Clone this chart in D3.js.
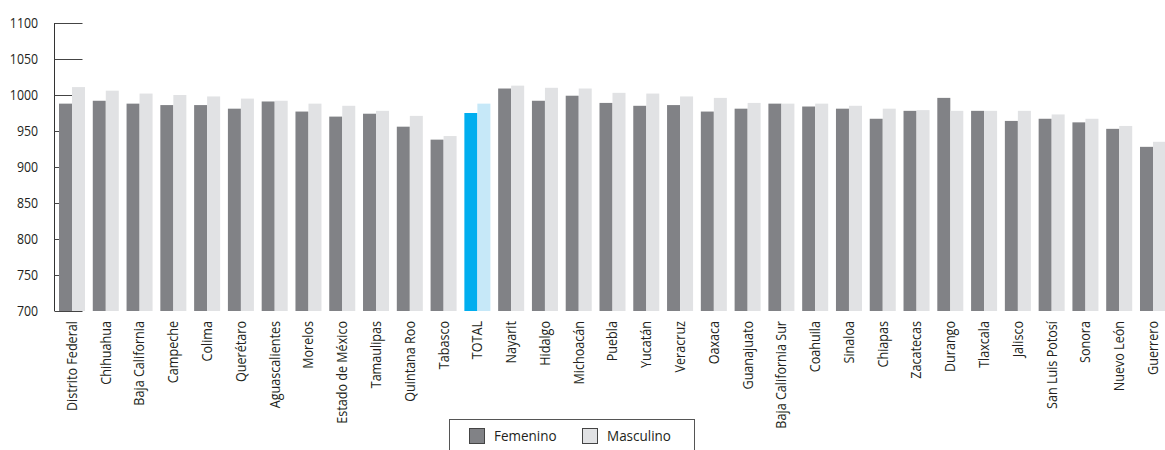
<!DOCTYPE html>
<html>
<head>
<meta charset="utf-8">
<script src="https://cdn.jsdelivr.net/npm/d3@7"></script>
<style>
  body { margin: 0; background: #fff; }
  text { font-family: "Open Sans", sans-serif; fill: #231f20; }
</style>
</head>
<body>
<div id="chart"></div>
<script>
const estados = ["Distrito Federal", "Chihuahua", "Baja California", "Campeche", "Colima", "Querétaro",
    "Aguascalientes", "Morelos", "Estado de México", "Tamaulipas", "Quintana Roo", "Tabasco", "TOTAL",
    "Nayarit", "Hidalgo", "Michoacán", "Puebla", "Yucatán", "Veracruz", "Oaxaca", "Guanajuato",
    "Baja California Sur", "Coahuila", "Sinaloa", "Chiapas", "Zacatecas", "Durango", "Tlaxcala",
    "Jalisco", "San Luis Potosí", "Sonora", "Nuevo León", "Guerrero"];

const femenino = [988, 992, 988, 986, 986, 981, 991, 977, 970, 974, 956, 938, 975,
    1009, 992, 999, 989, 985, 986, 977, 981, 988, 984, 981, 967, 978, 996, 978,
    964, 967, 962, 953, 928];

const masculino = [1011, 1006, 1002, 1000, 998, 995, 992, 988, 985, 978, 971, 943, 988,
    1013, 1010, 1009, 1003, 1002, 998, 996, 989, 988, 988, 985, 981, 979, 978, 978,
    978, 973, 967, 957, 935];

const yTicks = [700, 750, 800, 850, 900, 950, 1000, 1050, 1100];
const series = ["Femenino", "Masculino"];

const width = 1165, height = 450;
const svg = d3.select("#chart").append("svg")
    .attr("width", width)
    .attr("height", height);

const x = d3.scaleBand()
    .domain(estados)
    .range([59, 1166])
    .paddingInner(0.23)
    .paddingOuter(0);

const xs = d3.scaleBand()
    .domain(series)
    .range([0, x.bandwidth()]);

const y = d3.scaleLinear()
    .domain([700, 1100])
    .range([311, 23]);

// eje y, ticks hacia adentro
const yAxis = svg.append("g")
    .attr("transform", "translate(54.5,0)")
    .call(d3.axisRight(y).tickValues(yTicks).tickSize(28).tickFormat(""));
yAxis.select(".domain").attr("stroke", "#333").attr("d", `M0,${y(1100)}V${y(700)}`);
yAxis.selectAll(".tick line").attr("stroke", "#444");

// fuente condensada: se comprime el texto en su eje
svg.append("g")
    .selectAll("text")
    .data(yTicks)
    .enter()
    .append("text")
    .attr("transform", d => `translate(38,${y(d)}) scale(0.88,1)`)
    .attr("dy", "0.35em")
    .attr("text-anchor", "end")
    .style("font-size", "14px")
    .text(d => d);

const colores = {
    Femenino: "#818286", Masculino: "#e1e2e4",
    totalF: "#00aeef", totalM: "#c6e8f8"
};

const grupos = svg.append("g")
    .selectAll("g")
    .data(estados)
    .enter()
    .append("g")
    .attr("transform", d => `translate(${x(d)},0)`);

grupos.selectAll("rect")
    .data((d, i) => [
        { estado: d, serie: "Femenino", value: femenino[i] },
        { estado: d, serie: "Masculino", value: masculino[i] }
    ])
    .enter()
    .append("rect")
    .attr("x", d => xs(d.serie))
    .attr("y", d => y(d.value))
    .attr("width", xs.bandwidth())
    .attr("height", d => y(700) - y(d.value))
    .attr("fill", d => {
        if (d.estado === "TOTAL") return d.serie === "Femenino" ? colores.totalF : colores.totalM;
        return colores[d.serie];
    });

// etiquetas rotadas
svg.append("g")
    .selectAll("text")
    .data(estados)
    .enter()
    .append("text")
    .attr("transform", d => `translate(${x(d) + x.bandwidth() / 2},321) rotate(-90) scale(0.9,1)`)
    .attr("dy", "0.35em")
    .attr("text-anchor", "end")
    .style("font-size", "14px")
    .text(d => d);

// leyenda
const leyenda = svg.append("g");
leyenda.append("rect")
    .attr("x", 449.5).attr("y", 419.5)
    .attr("width", 245).attr("height", 40)
    .attr("fill", "none").attr("stroke", "#555");

const itemX = d3.scalePoint().domain(series).range([469, 582]);
const items = leyenda.selectAll(".item")
    .data(series)
    .enter()
    .append("g")
    .attr("transform", d => `translate(${itemX(d)},428)`);
items.append("rect")
    .attr("x", 0.5).attr("y", 0.5)
    .attr("width", 15).attr("height", 15)
    .attr("fill", d => colores[d])
    .attr("stroke", "#444");
items.append("text")
    .attr("transform", "translate(25,8) scale(0.9,1)")
    .attr("dy", "0.35em")
    .style("font-size", "15px")
    .text(d => d);
</script>
</body>
</html>
